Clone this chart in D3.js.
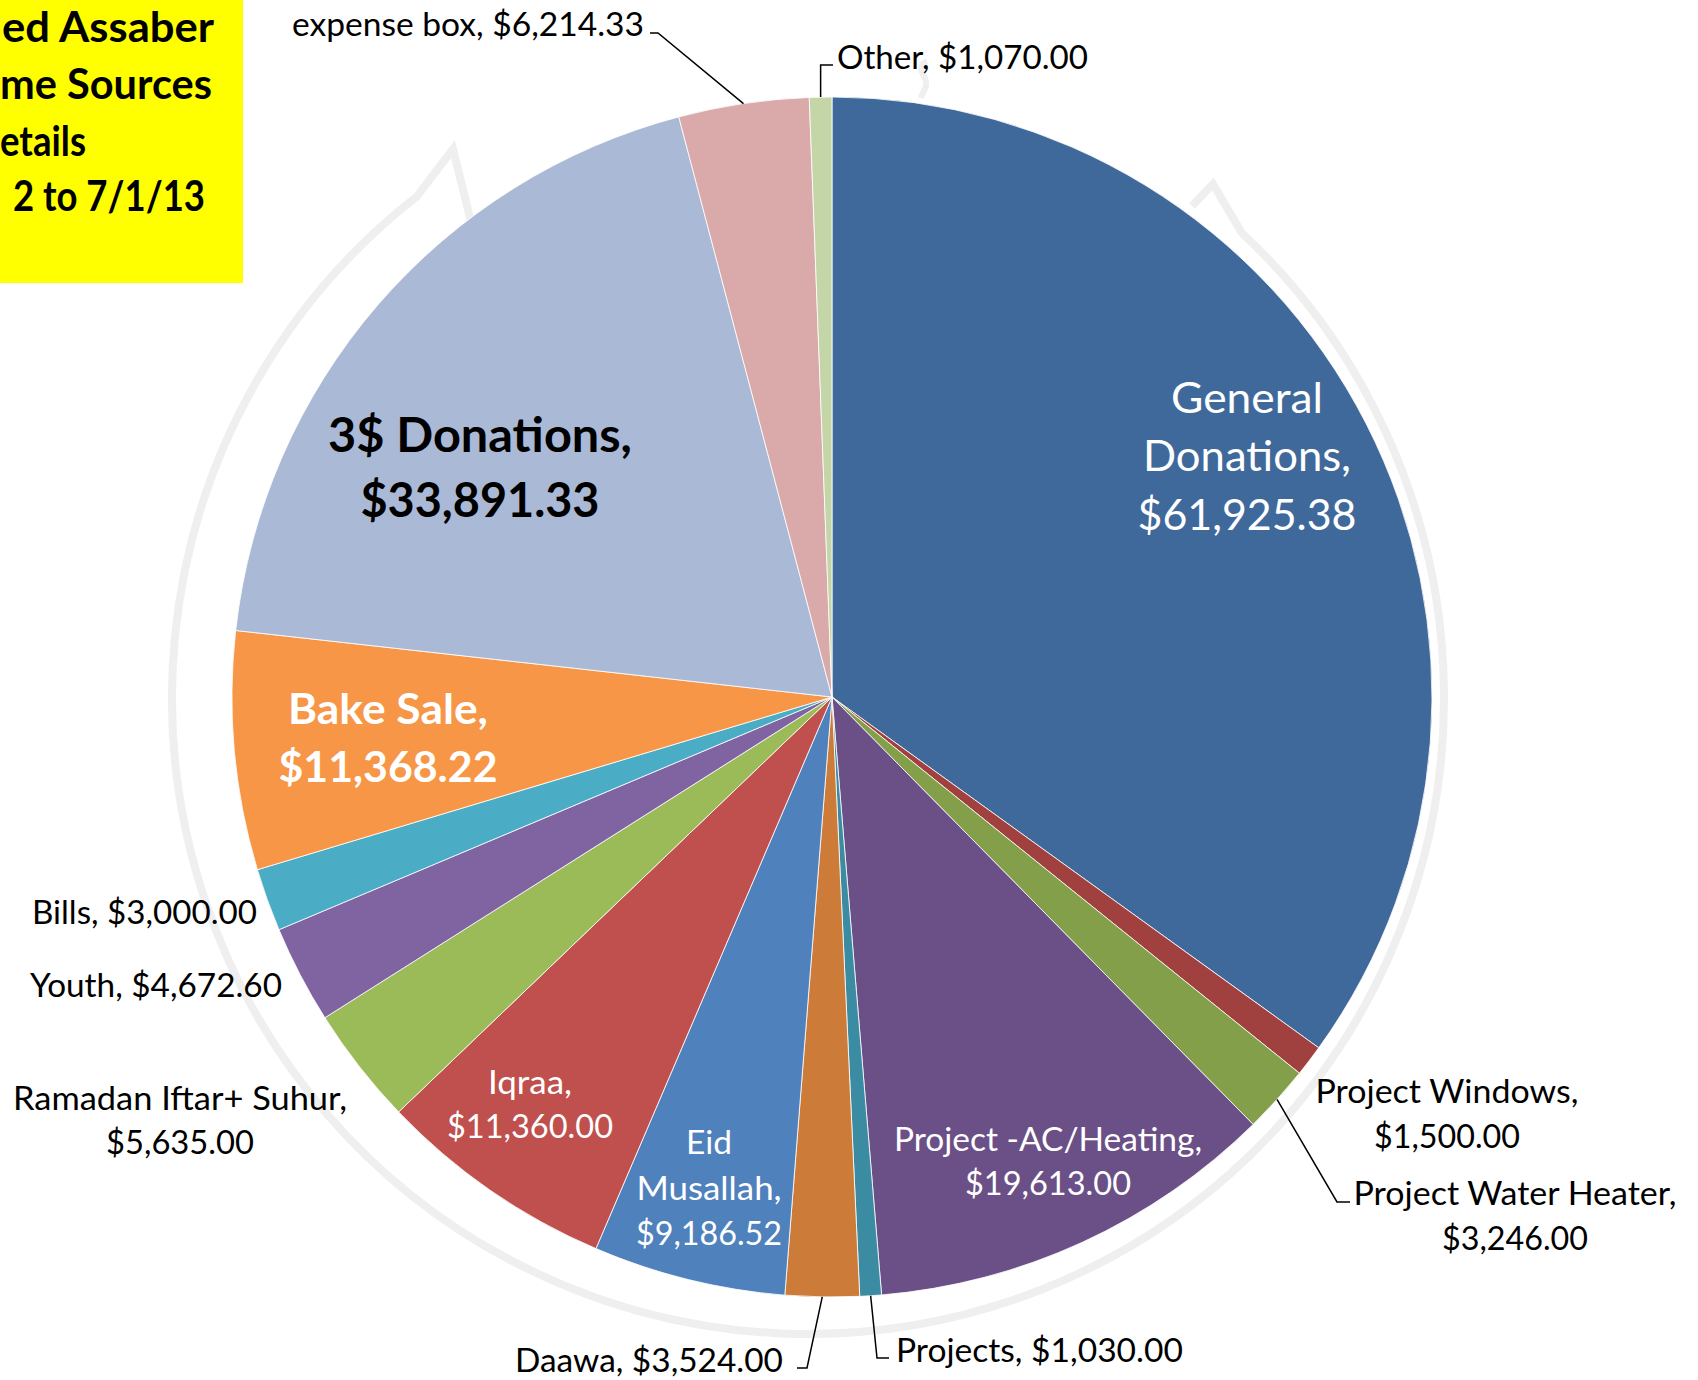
<!DOCTYPE html>
<html><head><meta charset="utf-8">
<script src="https://cdn.jsdelivr.net/npm/d3@7"></script>
<style>body{margin:0;background:#fff} svg{display:block}</style>
</head><body>
<svg id="chart" width="1698" height="1380"></svg>
<script>
// ---------- data ----------
const categories = ["General Donations","Project Windows","Project Water Heater","Project -AC/Heating","Projects","Daawa","Eid Musallah","Iqraa","Ramadan Iftar+ Suhur","Youth","Bills","Bake Sale","3$ Donations","expense box","Other"];
const values = [61925.38,1500.00,3246.00,19613.00,1030.00,3524.00,9186.52,11360.00,5635.00,4672.60,3000.00,11368.22,33891.33,6214.33,1070.00];
const colors = ["#40699B","#A1413F","#839F49","#6A5087","#3B8CA2","#CC7B38","#4F81BD","#C0504D","#9BBB59","#8064A2","#4BACC6","#F79646","#AAB9D6","#D9AAA9","#C4D5A8"];
const titleLines = ["ed Assaber","me Sources","etails","2 to 7/1/13"];

// ---------- layout (positions / styles only) ----------
const W = 1698, H = 1380;
const cx = 832, cy = 697, R = 600;
const labelLayout = {
  "General Donations":   {split:"words", anchor:"middle", x:1247, y:[413,471,530], size:43, fill:"#fff", widths:[152,208,219]},
  "Project Windows":     {split:"two", anchor:"middle", x:1447, y:[1103,1148], size:32, fill:"#000", widths:[263,146]},
  "Project Water Heater":{split:"two", anchor:"middle", x:1515, y:[1205,1250], size:32, fill:"#000", widths:[323,146], leader:[[1337,1202],[1350,1202]]},
  "Project -AC/Heating": {split:"two", anchor:"middle", x:1048, y:[1151,1195], size:32, fill:"#fff", widths:[308,166]},
  "Projects":            {split:"one", anchor:"start", x:896, y:[1362], size:32, fill:"#000", widths:[287], leader:[[877,1358],[889,1358]]},
  "Daawa":               {split:"one", anchor:"end", x:783, y:[1372], size:32, fill:"#000", widths:[268], leader:[[807,1368],[797,1368]]},
  "Eid Musallah":        {split:"words", anchor:"middle", x:709, y:[1154,1200,1245], size:33, fill:"#fff", widths:[46,145,146]},
  "Iqraa":               {split:"two", anchor:"middle", x:530, y:[1094,1138], size:32, fill:"#fff", widths:[84,166]},
  "Ramadan Iftar+ Suhur":{split:"two", anchor:"middle", x:180, y:[1110,1154], size:32, fill:"#000", widths:[334,148]},
  "Youth":               {split:"one", anchor:"start", x:30, y:[997], size:32, fill:"#000", widths:[252]},
  "Bills":               {split:"one", anchor:"start", x:32, y:[924], size:32, fill:"#000", widths:[225]},
  "Bake Sale":           {split:"two", anchor:"middle", x:388, y:[724,782], size:42, weight:"bold", fill:"#fff", widths:[200,219]},
  "3$ Donations":        {split:"two", anchor:"middle", x:480, y:[452,517], size:47, weight:"bold", fill:"#000", widths:[304,239]},
  "expense box":         {split:"one", anchor:"end", x:644, y:[36], size:32, fill:"#000", widths:[352], leader:[[658,33],[650,33]]},
  "Other":               {split:"one", anchor:"start", x:837, y:[69], size:32, fill:"#000", widths:[251], leader:[[null,65],[833,65]]}
};
const FONT = "Lato, 'Open Sans', 'DejaVu Sans', sans-serif";

const svg = d3.select("#chart");
svg.append("rect").attr("width", W).attr("height", H).attr("fill", "#fff");

// ---------- faint watermark outline behind pie ----------
const wm = svg.append("g").attr("fill", "none").attr("stroke", "#EFEFEF").attr("stroke-width", 8).attr("stroke-linejoin", "miter");
{
  const wcx = 808, wcy = 698, wr = 636;
  const toScreen = deg => (deg - 90) * Math.PI / 180;
  const p = d3.path();
  p.moveTo(471, 222);
  p.lineTo(453, 149);
  const a0 = toScreen(322), a1 = toScreen(43);
  p.lineTo(wcx + wr * Math.cos(a0), wcy + wr * Math.sin(a0));
  p.arc(wcx, wcy, wr, a0, a1, true);
  p.lineTo(1213, 184);
  p.lineTo(1192, 206);
  wm.append("path").attr("d", p.toString());
  wm.append("path").attr("stroke-width", 6)
    .attr("d", "M921,98 C923,90 929,86 925,78 C920,70 919,64 927,61");
}

// ---------- title box ----------
svg.append("rect").attr("x", 0).attr("y", 0).attr("width", 243).attr("height", 283).attr("fill", "#FFFF00");
const titleX = [2, 0, 0, 13], titleY = [42, 99, 156, 211], titleW = [212, 212, 86, 192];
svg.append("g").selectAll("text").data(titleLines).join("text")
  .attr("x", (d, i) => titleX[i]).attr("y", (d, i) => titleY[i])
  .attr("font-family", FONT).attr("font-weight", "bold").attr("font-size", 42)
  .attr("textLength", (d, i) => titleW[i]).attr("lengthAdjust", "spacingAndGlyphs")
  .attr("fill", "#000").text(d => d);

// ---------- pie ----------
const data = categories.map((c, i) => ({name: c, value: values[i], color: colors[i]}));
const pie = d3.pie().value(d => d.value).sort(null).startAngle(0).endAngle(2 * Math.PI);
const arcs = pie(data);
const arc = d3.arc().innerRadius(0).outerRadius(R);
const edge = d3.arc().innerRadius(R).outerRadius(R);

const g = svg.append("g").attr("transform", `translate(${cx},${cy})`);
g.selectAll("path").data(arcs).join("path")
  .attr("d", arc).attr("fill", d => d.data.color)
  .attr("stroke", "#fff").attr("stroke-width", 1).attr("stroke-opacity", 0.8);

// ---------- leader lines ----------
const fmt = d3.format("$,.2f");
arcs.forEach(d => {
  const L = labelLayout[d.data.name];
  if (!L.leader) return;
  const [ex, ey] = edge.centroid(d);
  const sx = cx + ex, sy = cy + ey;
  const pts = [[sx, sy]].concat(L.leader.map(([x, y]) => [x === null ? sx : x, y]));
  svg.append("path").attr("d", d3.line()(pts))
    .attr("fill", "none").attr("stroke", "#000").attr("stroke-width", 1.5);
});

// ---------- labels ----------
function labelLines(name, value, mode) {
  const money = fmt(value);
  if (mode === "one") return [`${name}, ${money}`];
  if (mode === "two") return [`${name},`, money];
  const words = name.split(" ");
  words[words.length - 1] += ",";
  return words.concat([money]);
}
const lg = svg.append("g").attr("font-family", FONT);
arcs.forEach(d => {
  const L = labelLayout[d.data.name];
  const lines = labelLines(d.data.name, d.data.value, L.split);
  lines.forEach((t, i) => {
    lg.append("text")
      .attr("x", L.x).attr("y", L.y[i])
      .attr("text-anchor", L.anchor)
      .attr("font-size", L.size)
      .attr("font-weight", L.weight || "normal")
      .attr("fill", L.fill)
      .attr("textLength", L.widths[i])
      .attr("lengthAdjust", "spacingAndGlyphs")
      .text(t);
  });
});
</script>
</body></html>
